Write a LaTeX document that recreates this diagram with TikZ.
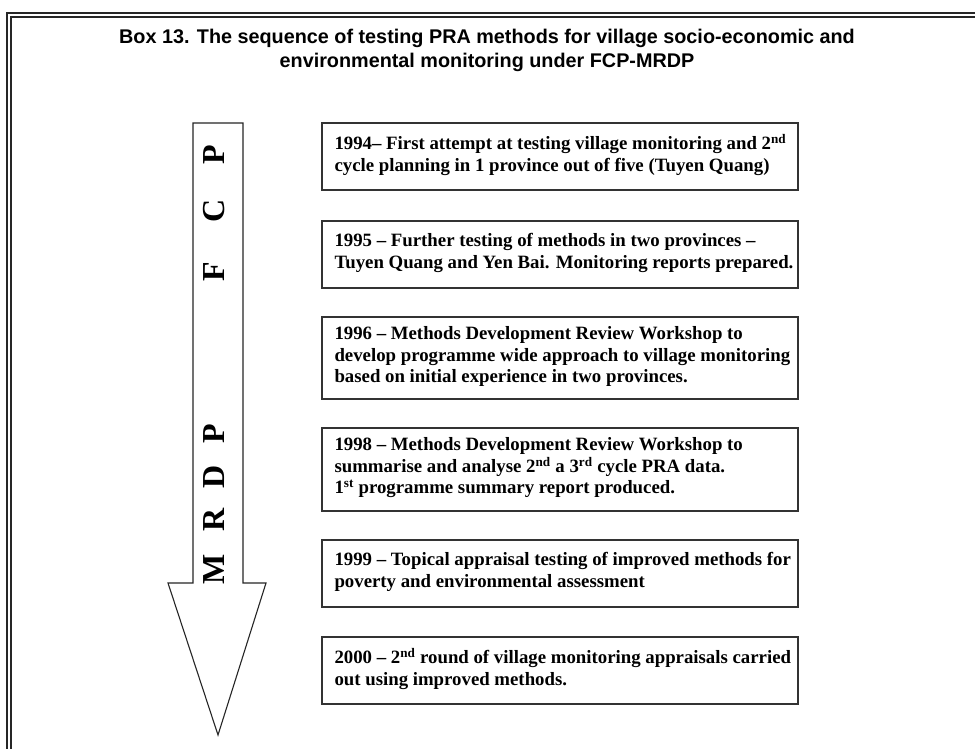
\documentclass[tikz,border=0pt]{standalone}
\usepackage{fontspec}
\setmainfont{Liberation Serif}
\newfontfamily\titlefont{Liberation Sans}
\newfontfamily\boxfont[Ligatures=TeX]{Liberation Serif}
\begin{document}
\begin{tikzpicture}[x=1pt,y=-1pt,
  frameline/.style={line width=1.5pt,black!85},
  yearbox/.style={draw=black!80,line width=1.4pt,minimum width=476pt,inner sep=0pt},
  yeartext/.style={anchor=west,align=left,inner sep=0pt,font=\boxfont\bfseries\fontsize{18.8}{21.5}\selectfont},
  arrowletter/.style={rotate=90,inner sep=0pt,font=\boxfont\bfseries\fontsize{32}{32}\selectfont},
  bigarrow/.style={draw=black!85,line width=1.1pt,fill=white}]
\useasboundingbox (0,0) rectangle (975,749);
\fill[white] (0,0) rectangle (975,749);
% outer double frame
\draw[frameline] (7,760) -- (7,13) -- (985,13);
\draw[frameline] (11,760) -- (11,17) -- (985,17);
% title
\node[align=center,font=\titlefont\bfseries\fontsize{19.8}{24}\selectfont] (title) at (487,50)
  {Box 13. The sequence of testing PRA methods for village socio-economic and\\
   environmental monitoring under FCP-MRDP};
% arrow
\draw[bigarrow] (193,123) -- (243,123) -- (243,583) -- (266,583) -- (218,735) -- (168,583) -- (193,583) -- cycle;
\node[arrowletter] (l1) at (214,155) {P};
\node[arrowletter] (l2) at (214,211) {C};
\node[arrowletter] (l3) at (214,272) {F};
\node[arrowletter] (l4) at (214,434) {P};
\node[arrowletter] (l5) at (214,477) {D};
\node[arrowletter] (l6) at (214,520) {R};
\node[arrowletter] (l7) at (214,569) {M};
% boxes
\node[yearbox,minimum height=67pt] (b1) at (560,156.5) {};
\node[yearbox,minimum height=67pt] (b2) at (560,254.5) {};
\node[yearbox,minimum height=82pt] (b3) at (560,358) {};
\node[yearbox,minimum height=83pt] (b4) at (560,469.5) {};
\node[yearbox,minimum height=67pt] (b5) at (560,573.5) {};
\node[yearbox,minimum height=67pt] (b6) at (560,670.5) {};
\node[yeartext] (t1) at ([xshift=13pt,yshift=1.5pt]b1.west)
  {1994– First attempt at testing village monitoring and 2\textsuperscript{nd}\\
   cycle planning in 1 province out of five (Tuyen Quang)};
\node[yeartext] (t2) at ([xshift=13pt,yshift=1.5pt]b2.west)
  {1995 – Further testing of methods in two provinces –\\
   Tuyen Quang and Yen Bai. Monitoring reports prepared.};
\node[yeartext] (t3) at ([xshift=13pt,yshift=1.5pt]b3.west)
  {1996 – Methods Development Review Workshop to\\
   develop programme wide approach to village monitoring\\
   based on initial experience in two provinces.};
\node[yeartext] (t4) at ([xshift=13pt,yshift=1.5pt]b4.west)
  {1998 – Methods Development Review Workshop to\\
   summarise and analyse 2\textsuperscript{nd} a 3\textsuperscript{rd} cycle PRA data.\\
   1\textsuperscript{st} programme summary report produced.};
\node[yeartext] (t5) at ([xshift=13pt,yshift=1.5pt]b5.west)
  {1999 – Topical appraisal testing of improved methods for\\
   poverty and environmental assessment};
\node[yeartext] (t6) at ([xshift=13pt,yshift=1.5pt]b6.west)
  {2000 – 2\textsuperscript{nd} round of village monitoring appraisals carried\\
   out using improved methods.};
\end{tikzpicture}
\end{document}
